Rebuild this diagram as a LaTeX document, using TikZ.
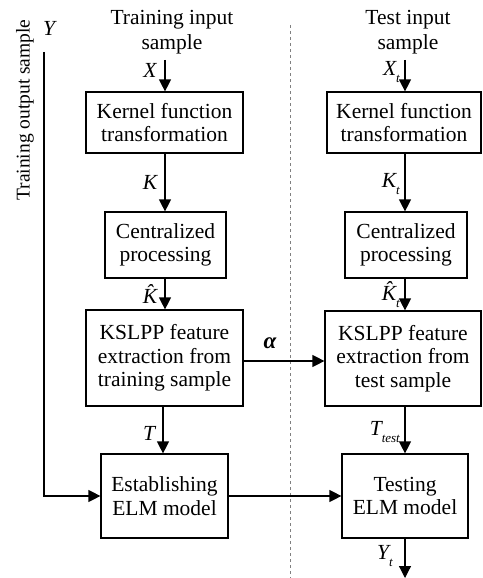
\documentclass[tikz,border=0pt]{standalone}
\usepackage{fontspec}
\setmainfont{Liberation Serif}
\usetikzlibrary{arrows.meta}
\tikzset{
  box/.style={draw, line width=1.2pt, align=center, inner sep=0pt, font=\fontsize{21.5}{23.5}\selectfont},
  arr/.style={line width=1.2pt, -{Triangle[width=12pt,length=12pt]}},
  lab/.style={font=\fontsize{21.5}{23.5}\selectfont\itshape, inner sep=0pt},
  ttl/.style={align=center, font=\fontsize{21.5}{24.5}\selectfont, inner sep=0pt},
}
\newcommand{\sbs}[1]{\raisebox{-0.35em}{\fontsize{13}{13}\selectfont\itshape #1}}
\begin{document}
\begin{tikzpicture}[x=1pt,y=-1pt]
\useasboundingbox (0,0) rectangle (482,578);
% titles
\node[ttl] (t1) at (172,32) {Training input\\sample};
\node[ttl] (t2) at (408,32) {Test input\\sample};
\node[rotate=90, inner sep=0pt, font=\fontsize{19.5}{22}\selectfont] (t3) at (25,110) {Training output sample};
% dashed divider
\coordinate (d1) at (290,25);
\coordinate (d2) at (290,578);
\draw[dashed, line width=0.6pt, gray] (d1) -- (d2);
% left boxes
\node[box, minimum width=157pt, minimum height=61pt] (b1) at (164.5,122.5) {Kernel function\\transformation};
\node[box, minimum width=121pt, minimum height=66pt] (b2) at (165.5,245) {Centralized\\processing};
\node[box, minimum width=157pt, minimum height=96pt] (b3) at (164.5,358) {KSLPP feature\\extraction from\\training sample};
\node[box, minimum width=127pt, minimum height=84pt] (b4) at (164.5,496) {Establishing\\ELM model};
% right boxes
\node[box, minimum width=154pt, minimum height=61pt] (b5) at (404,122.5) {Kernel function\\transformation};
\node[box, minimum width=122pt, minimum height=66pt] (b6) at (406,245) {Centralized\\processing};
\node[box, minimum width=156pt, minimum height=95pt] (b7) at (403,358.5) {KSLPP feature\\extraction from\\test sample};
\node[box, minimum width=126pt, minimum height=84pt] (b8) at (405,496) {Testing\\ELM model};
% left arrows
\coordinate (x0) at (165,60);
\draw[arr] (x0) -- (x0 |- b1.north);
\draw[arr] (b1.south -| 165,0) -- (b2.north -| 165,0);
\draw[arr] (b2.south -| 165,0) -- (b3.north -| 165,0);
\draw[arr] (b3.south -| 163,0) -- (b4.north -| 163,0);
% Y line
\coordinate (y0) at (44,52);
\draw[arr] (y0) |- (b4.west);
% right arrows
\coordinate (x1) at (405,60);
\draw[arr] (x1) -- (x1 |- b5.north);
\draw[arr] (b5.south -| 405,0) -- (b6.north -| 405,0);
\draw[arr] (b6.south -| 405,0) -- (b7.north -| 405,0);
\draw[arr] (b7.south -| 405,0) -- (b8.north -| 405,0);
\coordinate (yt) at (405,578);
\draw[arr] (b8.south -| 405,0) -- (yt);
% cross arrows
\draw[arr] (b3.east |- 0,361) -- (b7.west |- 0,361);
\draw[arr] (b4.east) -- (b8.west);
% labels
\node[lab] (lX) at (150,70) {X};
\node[lab] (lK) at (150,182) {K};
\node[lab] (lKh) at (150,294) {\^{K}};
\node[lab] (lT) at (149,433) {T};
\node[lab] (lY) at (49,28) {Y};
\node[lab, anchor=east] (lXt) at (400,72) {X\sbs{t}};
\node[lab, anchor=east] (lKt) at (400,184) {K\sbs{t}};
\node[lab, anchor=east] (lKht) at (400,295) {\^{K}\sbs{t}};
\node[lab, anchor=east] (lTt) at (400,432) {T\sbs{test}};
\node[lab, anchor=east] (lYt) at (393,556) {Y\sbs{t}};
\node[lab, font=\fontsize{23}{24}\selectfont\bfseries\itshape] (la) at (270,343) {α};
\end{tikzpicture}
\end{document}
